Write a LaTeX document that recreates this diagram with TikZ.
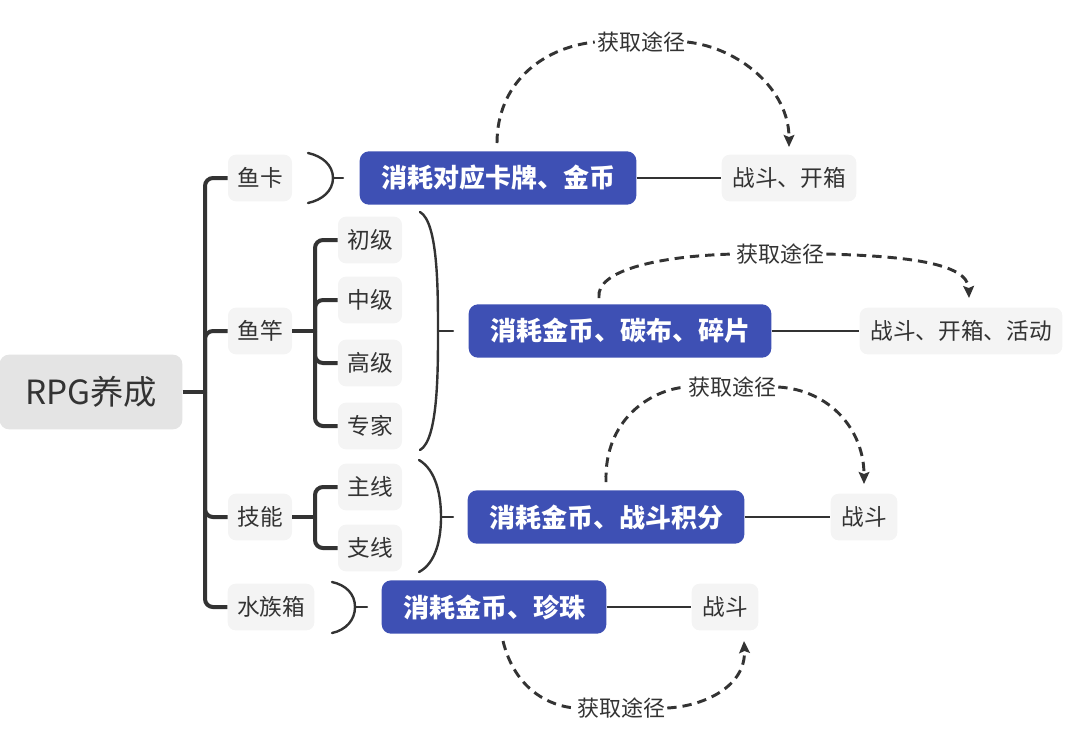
\documentclass[tikz,border=0pt]{standalone}
\usepackage{fontspec}
\setmainfont{Noto Sans CJK SC}
\usetikzlibrary{arrows.meta}
\definecolor{rpgInk}{HTML}{333333}
\definecolor{rpgBlue}{HTML}{3E50B4}
\definecolor{rpgPale}{HTML}{F4F4F4}
\definecolor{rpgGray}{HTML}{E4E4E4}
\tikzset{
  rpg root/.style={rounded corners=7pt, fill=rpgGray, text=rpgInk, font=\fontsize{25}{29}\selectfont,
    minimum width=137pt, minimum height=56pt, inner sep=0pt},
  rpg item/.style={rounded corners=6pt, fill=rpgPale, text=rpgInk, font=\fontsize{17}{20}\selectfont,
    minimum height=35pt, inner xsep=7pt},
  rpg cost/.style={rounded corners=7pt, fill=rpgBlue, text=white, font=\fontsize{19.5}{23}\selectfont\bfseries,
    minimum height=40pt, inner xsep=16pt},
  rpg gain/.style={rounded corners=6pt, fill=rpgPale, text=rpgInk, font=\fontsize{17}{20}\selectfont,
    minimum height=35pt, inner xsep=8pt},
  rpg route label/.style={text=rpgInk, font=\fontsize{16.5}{20}\selectfont, inner sep=1.5pt},
  rpg tree/.style={draw=rpgInk, line width=3pt, rounded corners=6pt},
  rpg brace/.style={draw=rpgInk, line width=1.8pt, line cap=round},
  rpg link/.style={draw=rpgInk, line width=2.2pt},
  rpg route/.style={draw=rpgInk, line width=2.2pt, dash pattern=on 7pt off 4.5pt,
    -{Stealth[length=9pt, width=8pt, inset=1.5pt]}},
}

\begin{document}
\begin{tikzpicture}[x=0.75pt, y=-0.75pt]
  \useasboundingbox (0,0) rectangle (1080,744);
  % Root and its four branches
  \node[rpg root] (root) at (91,392) {RPG养成};
  \foreach \n/\y/\t in {card/178/鱼卡, rod/331/鱼竿, skill/517/技能}
    \node[rpg item] (\n) at (260,\y) {\t};
  \node[rpg item] (tank) at (271,607) {水族箱};
  \coordinate (rootJ) at (205,392);
  \draw[rpg tree] (root.east) -- (rootJ);
  \foreach \n in {card,rod,skill,tank} \draw[rpg tree] (rootJ) |- (\n.west);
  % Second level: rod grades and skill lines
  \foreach \n/\y/\t in {lv1/240/初级, lv2/300/中级, lv3/363/高级, lv4/426/专家, main/487/主线, side/548/支线}
    \node[rpg item] (\n) at (370,\y) {\t};
  \coordinate (rodJ) at (315,331);
  \coordinate (skillJ) at (315,517);
  \draw[rpg tree] (rod.east) -- (rodJ);
  \foreach \n in {lv1,lv2,lv3,lv4} \draw[rpg tree] (rodJ) |- (\n.west);
  \draw[rpg tree] (skill.east) -- (skillJ);
  \foreach \n in {main,side} \draw[rpg tree] (skillJ) |- (\n.west);
  % Costs and where they come from
  \node[rpg cost] (cost1) at (498,178) {消耗对应卡牌、金币};
  \node[rpg cost] (cost2) at (620,331) {消耗金币、碳布、碎片};
  \node[rpg cost] (cost3) at (606,517) {消耗金币、战斗积分};
  \node[rpg cost] (cost4) at (494,607) {消耗金币、珍珠};
  \node[rpg gain] (gain1) at (789,178) {战斗、开箱};
  \node[rpg gain] (gain2) at (961,331) {战斗、开箱、活动};
  \node[rpg gain] (gain3) at (864,517) {战斗};
  \node[rpg gain] (gain4) at (725,607) {战斗};
  \foreach \i in {1,...,4} \draw[rpg link] (cost\i.east) -- (gain\i.west);
  % Closing braces in front of each cost
  \draw[rpg brace] (308,153) .. controls (322,156) and (333,165) .. (333,178)
    .. controls (333,191) and (322,200) .. (308,203);
  \draw[rpg brace] (333,178) -- (343,178);
  \draw[rpg brace] (420,212) .. controls (438,222) and (438,290) .. (438,331)
    .. controls (438,372) and (438,440) .. (420,450);
  \draw[rpg brace] (438,331) -- (453,331);
  \draw[rpg brace] (419,460) .. controls (436,470) and (441,495) .. (441,517)
    .. controls (441,539) and (436,563) .. (419,572);
  \draw[rpg brace] (441,517) -- (453,517);
  \draw[rpg brace] (332,582) .. controls (346,585) and (355,594) .. (355,607)
    .. controls (355,620) and (346,630) .. (332,633);
  \draw[rpg brace] (355,607) -- (367,607);
  % Dashed routes, label sits on the curve
  \node[rpg route label] (way1) at (641,42) {获取途径};
  \node[rpg route label] (way2) at (780,254) {获取途径};
  \node[rpg route label] (way3) at (732,387) {获取途径};
  \node[rpg route label] (way4) at (621,708) {获取途径};
  \coordinate (from1) at (497,143);
  \coordinate (to1) at (789,147);
  \coordinate (from2) at (599,298);
  \coordinate (to2) at (969,298);
  \coordinate (from3) at (606,482);
  \coordinate (to3) at (864,484);
  \coordinate (from4) at (503,641);
  \coordinate (to4) at (744,641);
  \draw[rpg route] (from1) .. controls (497,85) and (540,48) .. (way1.west)
    (way1.east) .. controls (740,48) and (789,90) .. (to1);
  \draw[rpg route] (from2) .. controls (595,270) and (660,256) .. (way2.west)
    (way2.east) .. controls (900,256) and (968,262) .. (to2);
  \draw[rpg route] (from3) .. controls (604,420) and (650,390) .. (way3.west)
    (way3.east) .. controls (830,390) and (864,430) .. (to3);
  \draw[rpg route] (from4) .. controls (515,690) and (550,706) .. (way4.west)
    (way4.east) .. controls (705,706) and (746,686) .. (to4);
\end{tikzpicture}
\end{document}
